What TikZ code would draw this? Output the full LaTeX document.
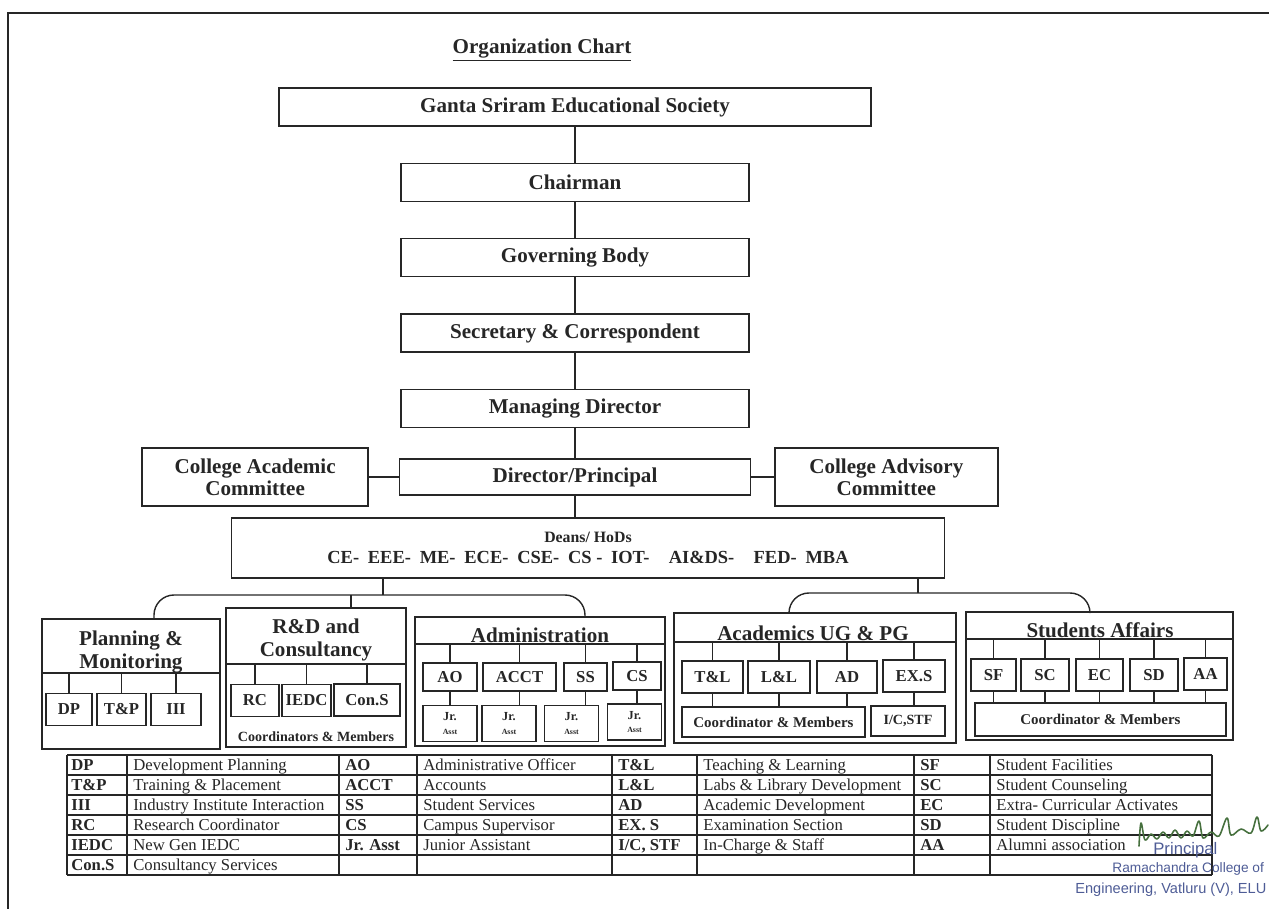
\documentclass[tikz,border=0pt]{standalone}
\usepackage{fontspec}
\setmainfont{Liberation Serif}
\newfontfamily\stampfont{Liberation Sans}
\usetikzlibrary{positioning,calc}
\definecolor{signgreen}{RGB}{70,112,62}
\definecolor{stampblue}{RGB}{78,92,150}

\begin{document}
\begin{tikzpicture}[x=0.02cm, y=-0.02cm, black!85,
      bigbox/.style  = {draw, line width=0.8pt, inner sep=0pt, minimum height=0.76cm,
                        font=\bfseries\fontsize{12}{14}\selectfont},
      sidebox/.style = {bigbox, minimum height=1.16cm, align=center,
                        font=\bfseries\fontsize{12}{12.5}\selectfont},
      grpbox/.style  = {draw, line width=0.8pt, inner sep=0pt},
      grptitle/.style= {inner sep=0pt, align=center,
                        font=\bfseries\fontsize{12}{13.6}\selectfont},
      subbox/.style  = {draw, line width=0.8pt, inner sep=0pt, minimum height=0.64cm,
                        font=\bfseries\fontsize{9.5}{11}\selectfont},
      jrbox/.style   = {subbox, minimum height=0.72cm, minimum width=1.08cm, align=center,
                        font=\bfseries\fontsize{7}{7.5}\selectfont},
      membox/.style  = {subbox, minimum height=0.6cm, font=\bfseries\fontsize{8.5}{10}\selectfont},
      link/.style    = {line width=0.8pt},
      tabline/.style = {line width=0.7pt},
      tabhead/.style = {anchor=base west, inner sep=0pt, font=\bfseries\fontsize{9.5}{10}\selectfont},
      tabtext/.style = {anchor=base west, inner sep=0pt, font=\fontsize{9.5}{10}\selectfont},
      stamp/.style   = {anchor=west, inner sep=0pt, stampblue}]

   \useasboundingbox (0,0) rectangle (1269,909);
   \draw[link] (8,909) -- (8,13) -- (1269,13);

   \node[font=\bfseries\fontsize{12}{14}\selectfont] (title) at (542,50)
        {\underline{Organization Chart}};

   % main line
   \node[bigbox, minimum width=11.84cm] (gses) at (575,107) {Ganta Sriram Educational Society};
   \node[bigbox, minimum width=6.96cm, below=0.72cm of gses]  (chair) {Chairman};
   \node[bigbox, minimum width=6.96cm, below=0.72cm of chair] (gov)   {Governing Body};
   \node[bigbox, minimum width=6.96cm, below=0.72cm of gov]   (sec)   {Secretary \& Correspondent};
   \node[bigbox, minimum width=6.96cm, below=0.72cm of sec]   (mdir)  {Managing Director};
   \node[bigbox, minimum width=7.02cm, minimum height=0.72cm, below=0.6cm of mdir] (dir)
        {Director/Principal};

   \node[sidebox, minimum width=4.52cm, left=0.6cm of dir]   (cac)  {College Academic\\Committee};
   \node[sidebox, minimum width=4.46cm, right=0.46cm of dir] (cadv) {College Advisory\\Committee};

   \node[grpbox, minimum width=14.26cm, minimum height=1.2cm, align=center,
         font=\bfseries\fontsize{10.5}{12}\selectfont] (deans) at (588,548)
        {{\fontsize{9}{12}\selectfont Deans/ HoDs}\\
         CE-\hspace{5pt}EEE-\hspace{5pt}ME-\hspace{5pt}ECE-\hspace{5pt}CSE-\hspace{5pt}CS -\hspace{5pt}IOT-\hspace{11pt}AI\&DS-\hspace{11pt}FED-\hspace{5pt}MBA};

   \draw[link] (gses) -- (chair);
   \draw[link] (chair) -- (gov);
   \draw[link] (gov) -- (sec);
   \draw[link] (sec) -- (mdir);
   \draw[link] (mdir) -- (dir);
   \draw[link] (cac) -- (dir);
   \draw[link] (dir) -- (cadv);
   \draw[link] (dir.south) -- (dir.south |- deans.north);

   % Planning & Monitoring
   \node[grpbox, minimum width=3.56cm, minimum height=2.6cm] (plan) at (131,684) {};
   \node[grptitle] (plantitle) at (131,652) {Planning \&\\Monitoring};
   \coordinate (plandiv) at (131,673);
   \draw[link] (plan.west |- plandiv) -- (plan.east |- plandiv);
   \node[subbox, minimum width=0.92cm] (dp)  at (69,709.5)  {DP};
   \node[subbox, minimum width=0.98cm] (tp)  at (121.5,709.5) {T\&P};
   \node[subbox, minimum width=1.0cm]  (iii) at (176,709.5) {III};
   \foreach \b in {dp,tp,iii}
      \draw[link] (\b.north) -- (\b.north |- plandiv);

   % R&D and Consultancy
   \node[grpbox, minimum width=3.6cm, minimum height=2.78cm] (rd) at (316,677.5) {};
   \node[grptitle] (rdtitle) at (316,640) {R\&D and\\Consultancy};
   \coordinate (rddiv) at (316,664);
   \draw[link] (rd.west |- rddiv) -- (rd.east |- rddiv);
   \node[subbox, minimum width=0.96cm] (rc)   at (255,700.5) {RC};
   \node[subbox, minimum width=0.98cm] (iedc) at (306.5,700.5) {IEDC};
   \node[subbox, minimum width=1.32cm] (cons) at (367,700) {Con.S};
   \foreach \b in {rc,iedc,cons}
      \draw[link] (\b.north) -- (\b.north |- rddiv);
   \node[inner sep=0pt, font=\bfseries\fontsize{8}{9}\selectfont] (rdmem) at (316,737)
        {Coordinators \& Members};

   % Administration
   \node[grpbox, minimum width=5cm, minimum height=2.58cm] (adm) at (540,681.5) {};
   \node[grptitle, anchor=base] (admtitle) at (540,642) {Administration};
   \coordinate (admdiv) at (540,644);
   \draw[link] (adm.west |- admdiv) -- (adm.east |- admdiv);
   \node[subbox, minimum width=1.08cm, minimum height=0.56cm] (ao)   at (450,677)   {AO};
   \node[subbox, minimum width=1.46cm, minimum height=0.56cm] (acct) at (519.5,677) {ACCT};
   \node[subbox, minimum width=0.86cm, minimum height=0.56cm] (ss)   at (585.5,677) {SS};
   \node[subbox, minimum width=0.96cm, minimum height=0.56cm] (cs)   at (637,676)   {CS};
   \node[jrbox] (jra) at (450,723.5)   {Jr.\\{\fontsize{4.5}{5}\selectfont Asst}};
   \node[jrbox] (jrb) at (509,723.5)   {Jr.\\{\fontsize{4.5}{5}\selectfont Asst}};
   \node[jrbox] (jrc) at (571.5,723.5) {Jr.\\{\fontsize{4.5}{5}\selectfont Asst}};
   \node[jrbox] (jrd) at (634.5,722)   {Jr.\\{\fontsize{4.5}{5}\selectfont Asst}};
   \foreach \b/\j in {ao/jra,acct/jrb,ss/jrc,cs/jrd}{
      \draw[link] (\b.north) -- (\b.north |- admdiv);
      \draw[link] (\b.south) -- (\b.south |- \j.north);
   }

   % Academics UG & PG
   \node[grpbox, minimum width=5.64cm, minimum height=2.6cm] (acad) at (815,678) {};
   \node[grptitle, anchor=base] (acadtitle) at (813,640) {Academics UG \& PG};
   \coordinate (acadiv) at (815,642);
   \draw[link] (acad.west |- acadiv) -- (acad.east |- acadiv);
   \node[subbox, minimum width=1.22cm] (tl)  at (712.5,677) {T\&L};
   \node[subbox, minimum width=1.24cm] (ll)  at (779,677)   {L\&L};
   \node[subbox, minimum width=1.2cm]  (ad)  at (847,677)   {AD};
   \node[subbox, minimum width=1.24cm] (exs) at (914,676)   {EX.S};
   \node[membox, minimum width=3.66cm] (acmem) at (773.5,722) {Coordinator \& Members};
   \node[membox, minimum width=1.48cm, font=\bfseries\fontsize{8}{9}\selectfont] (icstf) at (908,721)
        {I/C,STF};
   \foreach \b in {tl,ll,ad,exs}
      \draw[link] (\b.north) -- (\b.north |- acadiv);
   \foreach \b in {tl,ll,ad}
      \draw[link] (\b.south) -- (\b.south |- acmem.north);
   \draw[link] (exs.south) -- (exs.south |- icstf.north);

   % Students Affairs
   \node[grpbox, minimum width=5.34cm, minimum height=2.56cm] (stu) at (1099.5,676) {};
   \node[grptitle, anchor=base] (stutitle) at (1100,637) {Students Affairs};
   \coordinate (studiv) at (1100,639);
   \draw[link] (stu.west |- studiv) -- (stu.east |- studiv);
   \node[subbox, minimum width=0.9cm]  (sf) at (993.5,675)  {SF};
   \node[subbox, minimum width=0.96cm] (sc) at (1045,675)   {SC};
   \node[subbox, minimum width=0.94cm] (ec) at (1099.5,675) {EC};
   \node[subbox, minimum width=0.96cm] (sd) at (1154,675)   {SD};
   \node[subbox, minimum width=0.86cm] (aa) at (1205.5,674) {AA};
   \node[membox, minimum width=5.02cm, minimum height=0.66cm] (stmem) at (1100.5,719.5)
        {Coordinator \& Members};
   \foreach \b in {sf,sc,ec,sd,aa}{
      \draw[link] (\b.north) -- (\b.north |- studiv);
      \draw[link] (\b.south) -- (\b.south |- stmem.north);
   }

   % brackets from Deans
   \coordinate (lbar)  at (383,595);
   \coordinate (lbarL) at (154,595);
   \coordinate (lbarR) at (585,595);
   \coordinate (rdtick) at (351,595);
   \draw[link] (deans.south -| lbar) -- (lbar);
   \draw[link, rounded corners=0.4cm] (plan.north -| lbarL) |- (lbar) -| (adm.north -| lbarR);
   \draw[link] (rd.north -| rdtick) -- (rdtick);

   \coordinate (rbar)  at (918,593);
   \coordinate (rbarL) at (789,593);
   \coordinate (rbarR) at (1090,593);
   \draw[link] (deans.south -| rbar) -- (rbar);
   \draw[link, rounded corners=0.4cm] (acad.north -| rbarL) |- (rbar) -| (stu.north -| rbarR);

   % key table
   \foreach \y in {755,775,...,875}
      \draw[tabline] (67,\y) -- (1212,\y);
   \foreach \x in {67,127,339,417,612,697,914,990,1212}
      \draw[tabline] (\x,755) -- (\x,875);

   \foreach \t [count=\i] in {DP,T\&P,III,RC,IEDC,Con.S}
      \node[tabhead] (ta\i) at (71,{750.5+20*\i}) {\t};
   \foreach \t [count=\i] in {Development Planning,Training \& Placement,Industry Institute Interaction,
                              Research Coordinator,New Gen IEDC,Consultancy Services}
      \node[tabtext] (tb\i) at (133,{750.5+20*\i}) {\t};
   \foreach \t [count=\i] in {AO,ACCT,SS,CS,Jr. Asst}
      \node[tabhead] (tc\i) at (345,{750.5+20*\i}) {\t};
   \foreach \t [count=\i] in {Administrative Officer,Accounts,Student Services,Campus Supervisor,Junior Assistant}
      \node[tabtext] (td\i) at (423,{750.5+20*\i}) {\t};
   \foreach \t [count=\i] in {T\&L,L\&L,AD,EX. S,{I/C, STF}}
      \node[tabhead] (te\i) at (618,{750.5+20*\i}) {\t};
   \foreach \t [count=\i] in {Teaching \& Learning,Labs \& Library Development,Academic Development,
                              Examination Section,In-Charge \& Staff}
      \node[tabtext] (tf\i) at (703,{750.5+20*\i}) {\t};
   \foreach \t [count=\i] in {SF,SC,EC,SD,AA}
      \node[tabhead] (tg\i) at (920,{750.5+20*\i}) {\t};
   \foreach \t [count=\i] in {Student Facilities,Student Counseling,Extra- Curricular Activates,
                              Student Discipline,Alumni association}
      \node[tabtext] (th\i) at (996,{750.5+20*\i}) {\t};

   % signature and seal
   \draw[signgreen, line width=0.9pt, line cap=round, line join=round] plot[smooth, tension=0.6] coordinates
      {(1139,846) (1141,823) (1145,840) (1151,834) (1157,839) (1163,832) (1169,838)
       (1175,830) (1181,838) (1187,831) (1193,836) (1199,821) (1203,838) (1211,832)
       (1219,836) (1227,818) (1231,835) (1241,829) (1251,833) (1257,817) (1261,831) (1268,825)};
   \node[stamp, font=\stampfont\fontsize{9.5}{10}\selectfont] (seal1) at (1153,850) {Principal};
   \node[stamp, font=\stampfont\fontsize{7.8}{9}\selectfont] (seal2) at (1112,869) {Ramachandra College of};
   \node[stamp, font=\stampfont\fontsize{8.3}{9}\selectfont] (seal3) at (1075,890) {Engineering, Vatluru (V), ELU};
\end{tikzpicture}
\end{document}
